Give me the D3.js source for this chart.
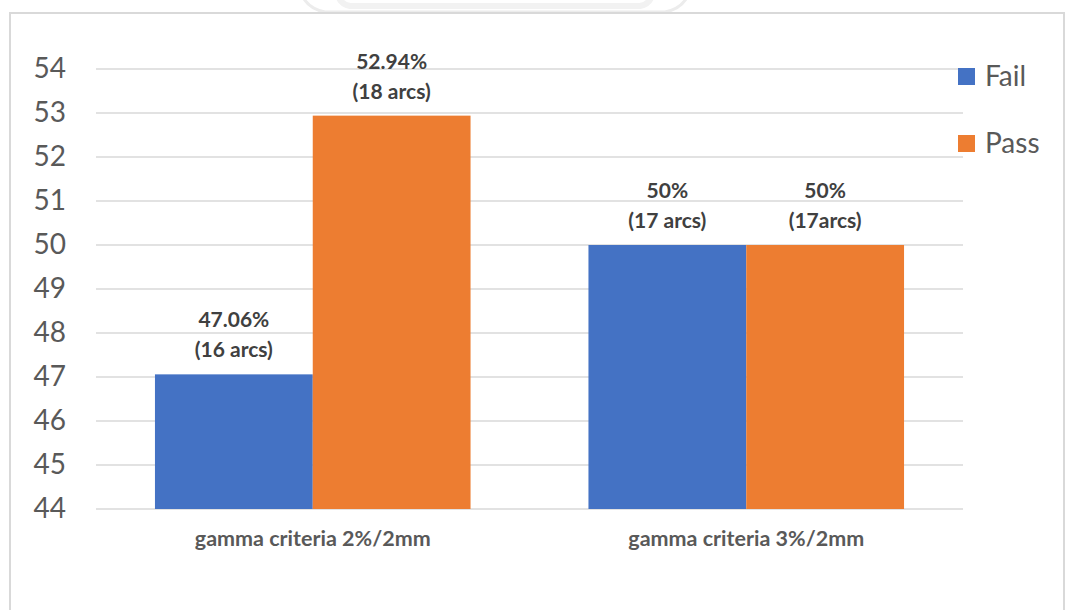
<!DOCTYPE html>
<html>
<head>
<meta charset="utf-8">
<script src="https://cdn.jsdelivr.net/npm/d3@7/dist/d3.min.js"></script>
<style>
  html, body { margin: 0; padding: 0; background: #fff; }
  svg { display: block; font-family: Lato, "Open Sans", sans-serif; }
</style>
</head>
<body>
<svg id="chart" width="1065" height="610"></svg>
<script>
// Gamma pass/fail share per criterion
const categories = ["gamma criteria 2%/2mm", "gamma criteria 3%/2mm"];
const seriesNames = ["Fail", "Pass"];
const failValues = [47.06, 50];
const passValues = [52.94, 50];
const failLabels = [["47.06%", "(16 arcs)"], ["50%", "(17 arcs)"]];
const passLabels = [["52.94%", "(18 arcs)"], ["50%", "(17arcs)"]];
const yTicks = [44, 45, 46, 47, 48, 49, 50, 51, 52, 53, 54];
const colors = { Fail: "#4472C4", Pass: "#ED7D31" };

const svg = d3.select("#chart");
const W = 1065, H = 610;
const plot = { left: 96, right: 963, top: 69, bottom: 509 };

// faint emblem peeking above the frame
const emblem = svg.append("g").attr("fill", "none").attr("stroke", "#ececec").attr("stroke-width", 3);
emblem.append("path").attr("d", "M300,-10 Q305,8 325,12 L665,12 Q685,8 690,-10");
emblem.append("path").attr("d", "M338,-5 Q340,4 350,6 L640,6 Q650,4 652,-5").attr("stroke", "#f2f2f2").attr("stroke-width", 6);

// chart frame
svg.append("rect")
  .attr("x", 10).attr("y", 13)
  .attr("width", W - 11).attr("height", H + 10)
  .attr("fill", "none").attr("stroke", "#d9d9d9").attr("stroke-width", 2);

const x0 = d3.scaleBand().domain(categories).range([plot.left, plot.right]).paddingInner(0.272).paddingOuter(0.136);
const x1 = d3.scaleBand().domain(seriesNames).range([0, x0.bandwidth()]);
const y = d3.scaleLinear().domain([44, 54]).range([plot.bottom, plot.top]);

// gridlines
svg.append("g").selectAll("line").data(yTicks).join("line")
  .attr("x1", plot.left).attr("x2", plot.right)
  .attr("y1", d => y(d)).attr("y2", d => y(d))
  .attr("stroke", "#d9d9d9").attr("stroke-width", 1.3);

// y-axis labels
const yAxis = svg.append("g")
  .attr("transform", `translate(${plot.left},0)`)
  .call(d3.axisLeft(y).tickValues(yTicks).tickSize(0).tickPadding(30));
yAxis.select(".domain").remove();
yAxis.selectAll("text")
  .attr("fill", "#595959").attr("font-size", 28).attr("font-family", "Lato, sans-serif");

// bars
const rows = categories.map((c, i) => ({ cat: c, values: [
  { name: "Fail", v: failValues[i], label: failLabels[i] },
  { name: "Pass", v: passValues[i], label: passLabels[i] }
]}));

const groups = svg.append("g").selectAll("g").data(rows).join("g")
  .attr("transform", d => `translate(${x0(d.cat)},0)`);

groups.selectAll("rect").data(d => d.values).join("rect")
  .attr("x", d => x1(d.name))
  .attr("y", d => y(d.v))
  .attr("width", x1.bandwidth())
  .attr("height", d => y(44) - y(d.v))
  .attr("fill", d => colors[d.name]);

// value labels
const lab = groups.selectAll("text.val").data(d => d.values).join("text")
  .attr("class", "val")
  .attr("text-anchor", "middle")
  .attr("font-size", 21).attr("font-weight", 700).attr("fill", "#404040")
  .attr("x", d => x1(d.name) + x1.bandwidth() / 2);
lab.append("tspan").attr("x", d => x1(d.name) + x1.bandwidth() / 2)
  .attr("y", d => y(d.v) - 47).text(d => d.label[0]);
lab.append("tspan").attr("x", d => x1(d.name) + x1.bandwidth() / 2)
  .attr("y", d => y(d.v) - 17).text(d => d.label[1]);

// category labels
const xAxis = svg.append("g")
  .attr("transform", `translate(0,${plot.bottom})`)
  .call(d3.axisBottom(x0).tickSize(0).tickPadding(22));
xAxis.select(".domain").remove();
xAxis.selectAll("text")
  .attr("fill", "#595959").attr("font-size", 21.5).attr("font-weight", 700)
  .attr("font-family", "Lato, sans-serif");

// legend
const legend = svg.append("g").selectAll("g").data(seriesNames).join("g")
  .attr("transform", (d, i) => `translate(958,${68 + i * 67})`);
legend.append("rect").attr("width", 17).attr("height", 17).attr("fill", d => colors[d]);
legend.append("text").attr("x", 27).attr("y", 18)
  .attr("font-size", 28).attr("fill", "#595959").text(d => d);
</script>
</body>
</html>
